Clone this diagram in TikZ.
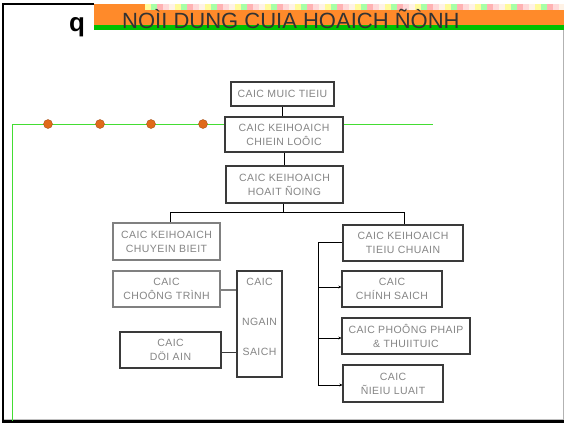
\documentclass[tikz,border=0pt]{standalone}
\usepackage{fontspec}
\setmainfont{Liberation Sans}
\newfontfamily\boxfont[LetterSpace=4]{Liberation Sans}
\usetikzlibrary{arrows.meta}
\definecolor{bandorange}{HTML}{FF8A2A}
\definecolor{bandgreen}{HTML}{00C000}
\definecolor{linegreen}{HTML}{44DD33}
\definecolor{dotorange}{HTML}{E06A1A}
\definecolor{txtgray}{HTML}{858585}
\definecolor{edgedark}{HTML}{3A3A3A}
\definecolor{edgegray}{HTML}{808080}
\tikzset{
  bx/.style={draw=edgedark, line width=1.2pt, fill=white, rectangle, inner sep=0pt,
     align=center, text=txtgray, font=\boxfont\fontsize{10.5}{14}\selectfont},
  bxg/.style={bx, draw=edgegray},
  nstxt/.style={text=txtgray, font=\boxfont\fontsize{10.5}{12}\selectfont, inner sep=0pt},
  conn/.style={draw=black, line width=0.9pt},
  arr/.style={draw=black, line width=0.6pt, -{Stealth[length=3pt,width=3pt]}},
  dot/.style={circle, fill=dotorange, draw=dotorange!70!black, line width=0.3pt, minimum size=9pt, inner sep=0pt}
}
\begin{document}
\begin{tikzpicture}[x=1pt,y=-1pt]
\useasboundingbox (0,0) rectangle (564,424);
\fill[white] (0,0) rectangle (564,424);
% frame
\draw[black, line width=2pt] (3,3) -- (3,421);
\draw[black, line width=2pt] (2,4) -- (94,4);
\draw[black, line width=2.2pt] (2,421.5) -- (564,421.5);
\draw[gray!60, line width=0.8pt] (563,4) -- (563,420);
\draw[gray!50, line width=0.6pt] (4,419.6) -- (563,419.6);
% header band
\fill[bandorange] (94,4) rectangle (564,25);
\fill[bandgreen] (94,25) rectangle (564,30);
\foreach \i in {0,...,69} {
  \pgfmathsetmacro{\xx}{145+\i*6}
  \pgfmathsetmacro{\cc}{mod(\i*7,5)}
  \ifcase\numexpr\cc\relax
    \fill[yellow!40!white] (\xx,4) rectangle ++(6,6);
  \or
    \fill[pink!60!white] (\xx,4) rectangle ++(6,6);
  \or
    \fill[green!35!white] (\xx,4) rectangle ++(6,6);
  \or
    \fill[white!90!orange] (\xx,4) rectangle ++(6,6);
  \else
    \fill[red!30!white] (\xx,4) rectangle ++(6,6);
  \fi
}
\node[anchor=base west, inner sep=0pt, font=\fontsize{26}{26}\selectfont\bfseries] (qq) at (69,31) {q};
\node[anchor=base west, inner sep=0pt, text=black!80, font=\fontsize{22}{22}\selectfont] (title) at (122,28) {NOÌI DUNG CUIA HOAICH ÑÒNH};
% green line and dots
\draw[linegreen, line width=1pt] (12,421) -- (12,124) -- (433,124);
\foreach \xx/\nm in {48/d1,100/d2,151/d3,203/d4} \node[dot] (\nm) at (\xx,124) {};
% boxes
\node[bx, minimum width=103pt, minimum height=24pt] (mt) at (282.5,94) {CAIC MUIC TIEIU};
\node[bx, minimum width=118pt, minimum height=35pt] (cl) at (284,134.5) {CAIC KEIHOAICH\\CHIEIN LOÔIC};
\node[bx, minimum width=117pt, minimum height=37pt] (hd) at (284.5,184.5) {CAIC KEIHOAICH\\HOAIT ÑOING};
\node[bxg, minimum width=107pt, minimum height=37pt] (cb) at (166.5,241.5) {CAIC KEIHOAICH\\CHUYEIN BIEIT};
\node[bx, minimum width=120pt, minimum height=36pt] (tc) at (403,243) {CAIC KEIHOAICH\\TIEIU CHUAIN};
\node[bx, minimum width=100pt, minimum height=36pt] (cs) at (392,289) {CAIC\\CHÍNH SAICH};
\node[bx, minimum width=128pt, minimum height=36pt] (pp) at (406,336) {CAIC PHOÔNG PHAIP\\\& THUIITUIC};
\node[bx, minimum width=100pt, minimum height=37pt] (dl) at (393,383.5) {CAIC\\ÑIEIU LUAIT};
\node[bxg, minimum width=107pt, minimum height=36pt] (ct) at (166.5,289) {CAIC\\CHOÔNG TRÌNH};
\node[bx, minimum width=101pt, minimum height=36pt] (da) at (170.5,350) {CAIC\\DÖI AIN};
\node[bx, minimum width=45pt, minimum height=106pt] (ns) at (259.5,324) {};
\node[nstxt] (ns1) at (259.5,282) {CAIC};
\node[nstxt] (ns2) at (259.5,322) {NGAIN};
\node[nstxt] (ns3) at (259.5,352) {SAICH};
% connectors
\draw[conn] (mt.south) -- (mt.south |- cl.north);
\draw[conn] (cl.south) -- (cl.south |- hd.north);
\coordinate (j0) at (283,212);
\coordinate (jl) at (170,212);
\coordinate (jr) at (404,212);
\draw[conn] (hd.south -| j0) -- (j0);
\draw[conn] (jl) -- (jr);
\draw[conn] (jl) -- (jl |- cb.north);
\draw[conn] (jr) -- (jr |- tc.north);
\coordinate (s0) at (318,242);
\coordinate (s1) at (318,385);
\draw[conn] (tc.west |- s0) -- (s0) -- (s1);
\draw[arr] (318,287) -- (cs.west |- 0,287);
\draw[arr] (318,338) -- (pp.west |- 0,338);
\draw[arr] (s1) -- (dl.west |- s1);
\draw[draw=edgegray, line width=2pt] (ct.east |- 0,290) -- (ns.west |- 0,290);
\draw[draw=edgedark, line width=1pt] (da.east |- 0,352) -- (ns.west |- 0,352);
\end{tikzpicture}
\end{document}
